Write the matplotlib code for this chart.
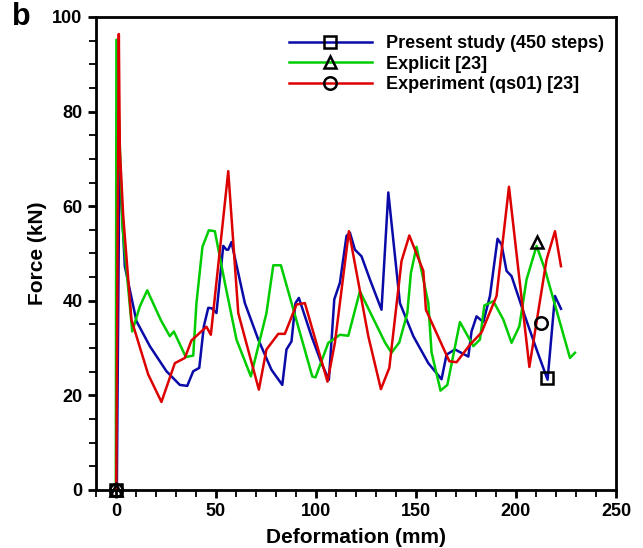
import matplotlib
matplotlib.use('Agg')
import matplotlib.pyplot as plt
from matplotlib.ticker import MultipleLocator

plt.rcParams['font.family'] = ['Liberation Sans', 'DejaVu Sans']
plt.rcParams['font.weight'] = 'bold'

# Present study (450 steps)
blue_x = [0.5, 1.8, 4.5, 10.3, 17.0, 25.3, 32.0, 35.7, 38.7, 41.7, 44.0, 46.2, 48.0, 50.3,
          53.7, 55.3, 56.2, 57.8, 64.5, 71.2, 77.8, 83.2, 85.3, 87.8, 89.8, 91.5, 97.8,
          102.8, 106.5, 109.2, 112.0, 115.3, 117.0, 119.5, 122.8, 127.0, 132.8, 136.2,
          142.0, 148.7, 156.2, 162.8, 165.3, 169.5, 176.2, 177.8, 180.3, 183.7, 187.0,
          190.8, 192.8, 195.3, 197.8, 204.5, 210.3, 215.8, 219.5, 222.5]
blue_y = [0.0, 70.0, 47.3, 35.7, 30.4, 25.1, 22.2, 22.0, 25.1, 25.8, 34.6, 38.5, 38.4, 37.4,
          51.6, 50.8, 50.8, 52.4, 39.5, 31.8, 25.4, 22.2, 29.7, 31.4, 39.5, 40.6, 32.5,
          26.8, 23.3, 40.3, 43.8, 53.7, 54.4, 50.8, 49.4, 44.5, 38.1, 62.9,
          39.5, 32.5, 26.8, 23.4, 28.6, 29.7, 28.2, 33.5, 36.7, 35.5, 41.0,
          53.1, 51.9, 46.3, 45.2, 36.7, 29.7, 23.3, 41.0, 38.3]

# Explicit [23]
green_x = [0.0, 0.3, 3.3, 8.2, 12.0, 15.7, 22.5, 27.0, 29.0, 35.0, 38.7, 40.3, 43.3, 46.5,
           49.5, 54.5, 60.3, 67.5, 75.3, 78.7, 82.5, 98.2, 99.8, 106.2, 112.0, 116.2,
           122.0, 134.5, 137.8, 141.7, 145.7, 147.5, 150.3, 156.2, 157.8, 162.3, 165.7,
           172.0, 178.7, 182.0, 184.2, 188.7, 193.7, 197.8, 201.7, 205.3, 210.3, 214.5,
           227.0, 229.5]
green_y = [0.0, 95.2, 55.8, 33.5, 38.8, 42.2, 35.9, 32.5, 33.5, 28.1, 28.4, 39.5, 51.4, 54.9,
           54.7, 43.8, 31.8, 24.0, 37.4, 47.5, 47.5, 24.0, 23.8, 31.1, 32.8, 32.6,
           42.0, 31.2, 29.0, 31.2, 37.4, 45.9, 51.4, 39.5, 29.1, 21.0, 22.2,
           35.5, 30.4, 31.8, 39.0, 39.9, 36.0, 31.1, 34.6, 44.5, 51.6, 46.6,
           27.9, 29.0]

# Experiment (qs01) [23]
red_x = [0.2, 1.5, 2.0, 3.7, 7.8, 16.2, 22.8, 29.5, 34.5, 37.8, 45.3, 47.5, 56.2, 61.2,
         71.5, 75.3, 81.2, 84.5, 90.3, 94.5, 105.8, 109.5, 116.5, 126.2, 132.5, 136.7,
         142.8, 146.7, 153.7, 155.0, 166.7, 170.3, 177.0, 182.8, 190.3, 196.5, 206.7,
         215.3, 219.5, 222.5]
red_y = [0.0, 96.4, 72.0, 57.9, 36.0, 24.4, 18.6, 26.8, 27.9, 31.6, 34.5, 32.8, 67.4, 37.4,
         21.2, 29.7, 33.0, 33.0, 39.2, 39.5, 22.9, 31.1, 54.7, 32.5, 21.3, 25.8,
         48.4, 53.8, 46.3, 38.1, 27.2, 27.0, 30.7, 33.3, 41.0, 64.1, 26.0,
         48.7, 54.7, 47.3]

labels = ['Present study (450 steps)', 'Explicit [23]', 'Experiment (qs01) [23]']
colors = ['#0a0aa8', '#00cc00', '#dd0000']
markers = ['s', '^', 'o']
# marked points (besides the origin)
mark_x = [215.3, 210.3, 212.3]
mark_y = [23.7, 52.4, 35.3]

fig = plt.figure(figsize=(6.43, 5.48), dpi=100)
ax = fig.add_axes([0.149, 0.106, 0.809, 0.863])

series = [(blue_x, blue_y), (green_x, green_y), (red_x, red_y)]
for (xs, ys), c in zip(series, colors):
    ax.plot(xs, ys, color=c, lw=1.8, zorder=2)

for i in range(3):
    ax.plot([0, mark_x[i]], [0, mark_y[i]], ls='none', marker=markers[i], ms=9,
            mfc='none', mec='black', mew=1.8, zorder=5, clip_on=False)

# legend handles
handles = []
for i in range(3):
    h, = ax.plot([], [], color=colors[i], lw=1.8, marker=markers[i], ms=9,
                 mfc='none', mec='black', mew=1.8)
    handles.append(h)
ax.legend(handles, labels, loc='upper left', bbox_to_anchor=(0.34, 0.996), frameon=False,
          handlelength=4.6, handletextpad=0.8, labelspacing=0.2, borderpad=0.4,
          prop={'weight': 'bold', 'size': 13})

ax.set_xlim(-10, 250)
ax.set_ylim(0, 100)
ax.xaxis.set_major_locator(MultipleLocator(50))
ax.xaxis.set_minor_locator(MultipleLocator(10))
ax.yaxis.set_major_locator(MultipleLocator(20))
ax.yaxis.set_minor_locator(MultipleLocator(5))
ax.tick_params(which='major', length=6, width=2.0, labelsize=13, direction='out')
ax.tick_params(which='minor', length=5, width=1.3, direction='out')
for lab in ax.get_xticklabels() + ax.get_yticklabels():
    lab.set_fontweight('bold')
for s in ax.spines.values():
    s.set_linewidth(2.0)

ax.set_xlabel('Deformation (mm)', fontsize=15, fontweight='bold', labelpad=6)
ax.set_ylabel('Force (kN)', fontsize=15, fontweight='bold', labelpad=4)
fig.text(0.018, 0.955, 'b', fontsize=22, fontweight='bold')

fig.savefig('out.png', dpi=100)
